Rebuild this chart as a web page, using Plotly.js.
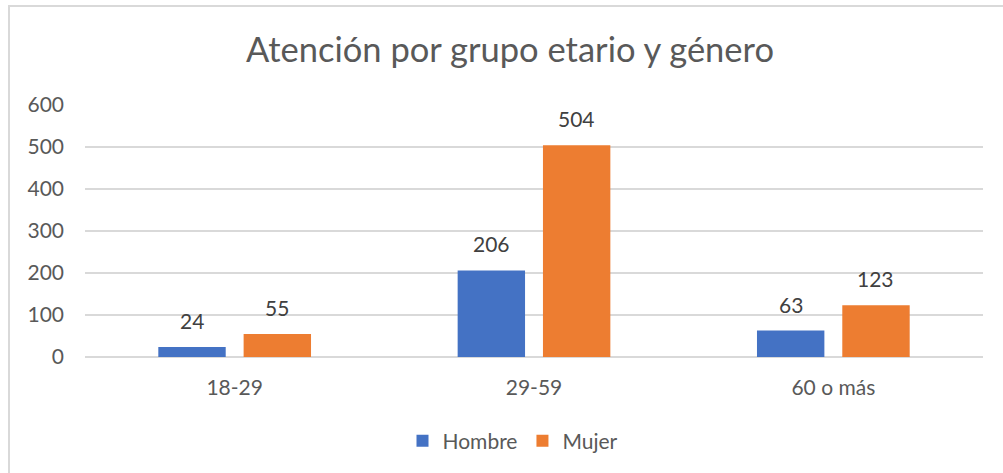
<!DOCTYPE html>
<html>
<head>
<meta charset="utf-8">
<script src="https://cdn.plot.ly/plotly-3.0.1.min.js"></script>
<style>
html,body{margin:0;padding:0;background:#fff;}
#chart{width:1003px;height:473px;}
</style>
</head>
<body>
<div id="chart"></div>
<script>
const categories = ["18-29", "29-59", "60 o más"];
const hombre = [24, 206, 63];
const mujer = [55, 504, 123];
const seriesNames = ["Hombre", "Mujer"];
const yTicks = [0, 100, 200, 300, 400, 500, 600];

const FONT = "Lato, 'Open Sans', sans-serif";
const colors = ["#4472C4", "#ED7D31"];

const traces = [
  {type: "bar", name: seriesNames[0], x: categories, y: hombre, marker: {color: colors[0]}, hoverinfo: "none"},
  {type: "bar", name: seriesNames[1], x: categories, y: mujer, marker: {color: colors[1]}, hoverinfo: "none"}
];

const annotations = [];
[hombre, mujer].forEach((vals, si) => {
  vals.forEach((v, i) => {
    annotations.push({
      x: categories[i], y: v, xref: "x", yref: "y",
      text: String(v), showarrow: false,
      xshift: si === 0 ? -42.5 : 42.5,
      yanchor: "bottom", yshift: 12,
      font: {family: FONT, size: 21, color: "#404040"}
    });
  });
});

const layout = {
  width: 1003, height: 473,
  margin: {l: 85, r: 20, t: 105, b: 116},
  paper_bgcolor: "#ffffff", plot_bgcolor: "#ffffff",
  barmode: "group", bargap: 0.43, bargroupgap: 0.21,
  title: {
    text: "Atención por grupo etario y género",
    font: {family: FONT, size: 34.5, color: "#595959"},
    x: 510/1003, xanchor: "center", xref: "container",
    y: 1 - 50/473, yanchor: "middle", yref: "container"
  },
  xaxis: {
    type: "category",
    showgrid: false, showline: false, ticks: "",
    tickfont: {family: FONT, size: 21, color: "#595959"},
    ticklabelstandoff: 16
  },
  yaxis: {
    range: [0, 600], tickvals: yTicks,
    showgrid: true, gridcolor: "#d9d9d9", gridwidth: 1.3,
    zeroline: true, zerolinecolor: "#d9d9d9", zerolinewidth: 1.3,
    showline: false, ticks: "",
    tickfont: {family: FONT, size: 21, color: "#595959"},
    ticklabelstandoff: 20
  },
  showlegend: true,
  legend: {
    orientation: "h", x: 513/1003, xanchor: "center", xref: "container",
    y: 1 - 441/473, yanchor: "middle", yref: "container",
    font: {family: FONT, size: 21, color: "#595959"},
    itemclick: false, itemdoubleclick: false
  },
  annotations: annotations,
  shapes: [
    {type: "line", xref: "paper", yref: "paper", x0: (9-85)/898, x1: (9-85)/898, y0: (357-6)/252, y1: (357-480)/252, line: {color: "#d9d9d9", width: 2}},
    {type: "line", xref: "paper", yref: "paper", x0: (8-85)/898, x1: (1010-85)/898, y0: (357-6)/252, y1: (357-6)/252, line: {color: "#d9d9d9", width: 2}}
  ]
};

Plotly.newPlot("chart", traces, layout, {displayModeBar: false, staticPlot: true});
</script>
</body>
</html>
